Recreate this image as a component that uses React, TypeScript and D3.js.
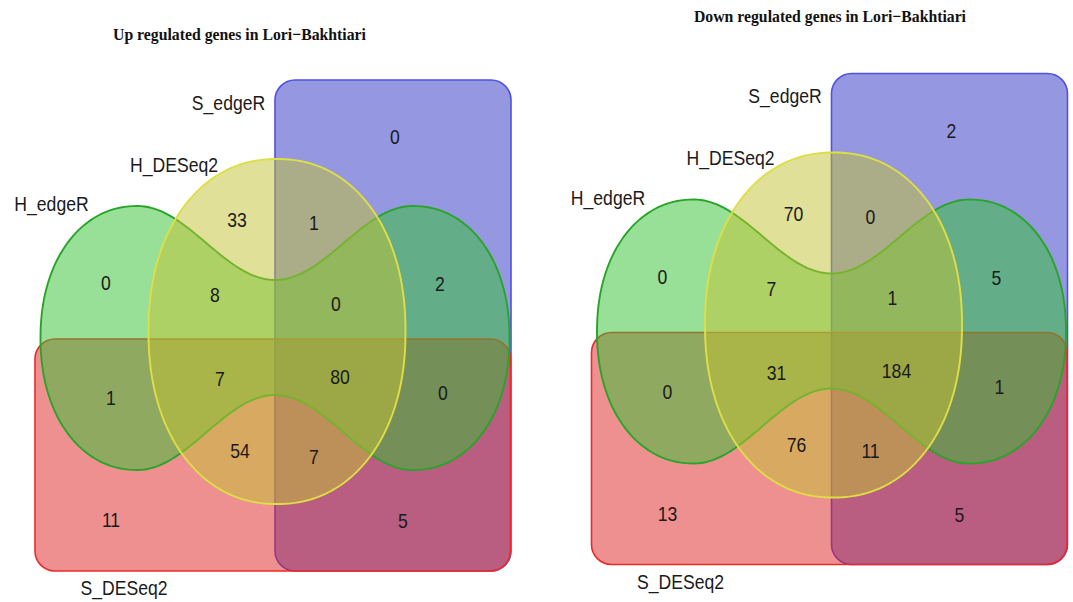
import React from 'react';
import * as d3 from 'd3';

const W = 1073;
const H = 602;

// Sets: A = H_edgeR (green), B = H_DESeq2 (yellow), C = S_edgeR (blue), D = S_DESeq2 (red)
const setNames = ['H_edgeR', 'H_DESeq2', 'S_edgeR', 'S_DESeq2'];
const regionKeys = ['C', 'B', 'BC', 'A', 'AB', 'ABC', 'AC', 'AD', 'ABD', 'ABCD', 'ACD', 'BD', 'BCD', 'D', 'CD'];
const upCounts = [0, 33, 1, 0, 8, 0, 2, 1, 7, 80, 0, 54, 7, 11, 5];
const downCounts = [2, 70, 0, 0, 7, 1, 5, 0, 31, 184, 1, 76, 11, 13, 5];
const panelTitles = ['Up regulated genes in Lori\u2212Bakhtiari', 'Down regulated genes in Lori\u2212Bakhtiari'];

// Layout in reference-panel units
const labelPos: Record<string, [number, number]> = {
  C: [395, 137], B: [237, 220], BC: [314, 223], A: [106, 283], AB: [215, 295], ABC: [336, 304],
  AC: [440, 284], AD: [111, 398], ABD: [220, 379], ABCD: [340, 377], ACD: [443, 393],
  BD: [240, 451], BCD: [314, 457], D: [111, 520], CD: [403, 521],
};
const setLabelPos: [number, number][] = [[51.5, 211], [174, 171.5], [228.5, 109.5], [124, 595]];

const geo = {
  blue: { x0: 275, x1: 511, y0: 80, y1: 571, r: 20 },
  red: { x0: 35, x1: 510.5, y0: 339, y1: 571, r: 20 },
  green: { lx: 137.5, rx: 412.5, cy: 338, a: 97, b: 132, top: 280, bot: 395, n: 2.12 },
  yellow: { cx: 277, cy: 331.5, a: 128.5, b: 172.5, n: 2.15 },
};

const panels = [
  { dx: 0, dy: 0, title: panelTitles[0], titleX: 113, titleW: 253, titleY: 40, counts: upCounts },
  { dx: 556.5, dy: -6.5, title: panelTitles[1], titleX: 694, titleW: 272, titleY: 22, counts: downCounts },
];

function sp(v: number, e: number) {
  return Math.sign(v) * Math.pow(Math.abs(v), e);
}

function greenPoints() {
  const g = geo.green;
  const pts: [number, number][] = [];
  const N = 80;
  const e = 2 / g.n;
  const span = g.rx - g.lx;
  const topMid = (g.cy - g.b + g.top) / 2, topAmp = (g.top - (g.cy - g.b)) / 2;
  const botMid = (g.cy + g.b + g.bot) / 2, botAmp = (g.cy + g.b - g.bot) / 2;
  for (let i = 0; i <= N; i++) {
    const x = g.lx + (span * i) / N;
    pts.push([x, topMid - topAmp * Math.cos((2 * Math.PI * (x - g.lx)) / span)]);
  }
  for (let i = 1; i <= N; i++) {
    const t = -Math.PI / 2 + (Math.PI * i) / N;
    pts.push([g.rx + g.a * sp(Math.cos(t), e), g.cy + g.b * sp(Math.sin(t), e)]);
  }
  for (let i = 1; i <= N; i++) {
    const x = g.rx - (span * i) / N;
    pts.push([x, botMid + botAmp * Math.cos((2 * Math.PI * (x - g.lx)) / span)]);
  }
  for (let i = 1; i < N; i++) {
    const t = Math.PI / 2 + (Math.PI * i) / N;
    pts.push([g.lx + g.a * sp(Math.cos(t), e), g.cy + g.b * sp(Math.sin(t), e)]);
  }
  return pts;
}

function yellowPoints() {
  const y = geo.yellow;
  const pts: [number, number][] = [];
  const N = 240;
  const e = 2 / y.n;
  for (let i = 0; i < N; i++) {
    const t = (2 * Math.PI * i) / N;
    pts.push([y.cx + y.a * sp(Math.cos(t), e), y.cy + y.b * sp(Math.sin(t), e)]);
  }
  return pts;
}

const numFont = "'Liberation Sans', Arial, Helvetica, sans-serif";

function Panel({ p }: { p: typeof panels[number] }) {
  const sx = d3.scaleLinear().domain([0, 1000]).range([p.dx, p.dx + 1000]);
  const sy = d3.scaleLinear().domain([0, 1000]).range([p.dy, p.dy + 1000]);
  const line = d3.line<[number, number]>().x((d) => sx(d[0])).y((d) => sy(d[1]));
  const gPath = line(greenPoints()) + 'Z';
  const yPath = line(yellowPoints()) + 'Z';
  const b = geo.blue, r = geo.red;
  return (
    <g>
      <text
        x={p.titleX}
        y={p.titleY}
        textLength={p.titleW}
        lengthAdjust="spacingAndGlyphs"
        fontFamily="'Liberation Serif', 'Times New Roman', serif"
        fontWeight="bold"
        fontSize={17}
        fill="#111"
      >
        {p.title}
      </text>
      <rect x={sx(b.x0)} y={sy(b.y0)} width={sx(b.x1) - sx(b.x0)} height={sy(b.y1) - sy(b.y0)} rx={b.r}
        fill="rgb(43,49,193)" fillOpacity={0.5} stroke="rgb(80,80,225)" strokeWidth={1.6} />
      <rect x={sx(r.x0)} y={sy(r.y0)} width={sx(r.x1) - sx(r.x0)} height={sy(r.y1) - sy(r.y0)} rx={r.r}
        fill="rgb(221,33,33)" fillOpacity={0.5} stroke="rgb(238,40,40)" strokeWidth={1.6} />
      <path d={gPath} fill="rgb(49,193,49)" fillOpacity={0.5} stroke="rgb(40,165,40)" strokeWidth={1.9} />
      <path d={yPath} fill="rgb(193,193,49)" fillOpacity={0.5} stroke="rgb(222,222,70)" strokeWidth={1.9} />
      {regionKeys.map((k, i) => (
        <g key={k} transform={`translate(${sx(labelPos[k][0])},${sy(labelPos[k][1])}) scale(0.88,1)`}>
          <text textAnchor="middle" dy="0.36em" fontFamily={numFont} fontSize={20} fill="#1a1a1a">
            {p.counts[i]}
          </text>
        </g>
      ))}
      {setNames.map((n, i) => (
        <g key={n} transform={`translate(${sx(setLabelPos[i][0])},${sy(setLabelPos[i][1])}) scale(0.88,1)`}>
          <text textAnchor="middle" fontFamily={numFont} fontSize={20} fill="#1a1a1a">
            {n}
          </text>
        </g>
      ))}
    </g>
  );
}

export default function App() {
  return (
    <svg width={W} height={H} style={{ position: 'absolute', left: 0, top: 0, background: '#fff' }}>
      <rect x={0} y={0} width={W} height={H} fill="#fff" />
      {panels.map((p, i) => (
        <Panel key={i} p={p} />
      ))}
    </svg>
  );
}
